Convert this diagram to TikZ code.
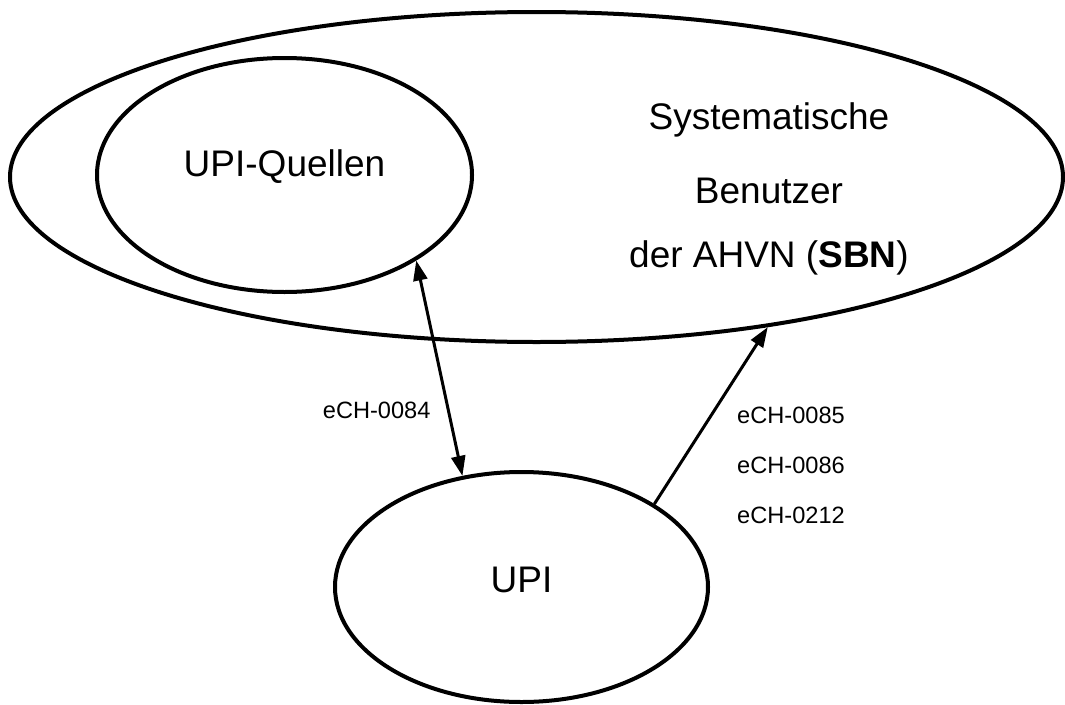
\documentclass[tikz,border=0pt]{standalone}
\usepackage{fontspec}
\setmainfont{Liberation Sans}
\usetikzlibrary{shapes.geometric,arrows.meta}
\tikzset{
  blob/.style={ellipse, draw=black, line width=4pt, inner sep=0pt},
  bigtext/.style={font=\fontsize{37}{44}\selectfont, anchor=base, inner sep=0pt},
  lbltext/.style={font=\fontsize{23.6}{28}\selectfont, anchor=base, inner sep=0pt},
  link/.style={line width=3pt, draw=black},
  tip/.tip={Triangle[length=20pt,width=14pt]}
}
\begin{document}
\begin{tikzpicture}[x=1pt,y=-1pt]
\useasboundingbox (0,0) rectangle (1065,704);
\node[blob, minimum width=1053pt, minimum height=330pt] (outer) at (536.5,177) {};
\node[blob, minimum width=375pt, minimum height=234pt] (quellen) at (284.5,175) {};
\node[blob, minimum width=373pt, minimum height=230pt] (upi) at (521.5,587) {};
\node[bigtext] (tq) at (284.5,176) {UPI-Quellen};
\node[bigtext] (tupi) at (521.5,592) {UPI};
\node[bigtext] (ts1) at (769,129) {Systematische};
\node[bigtext] (ts2) at (769,203) {Benutzer};
\node[bigtext] (ts3) at (769,267) {der AHVN (\textbf{SBN})};
\draw[link, tip-tip] (quellen.-33.5) -- (upi.118.6);
\draw[link, -tip] (upi.32.6) -- (outer.-33);
\node[lbltext] (l84) at (376.7,418) {eCH-0084};
\node[lbltext] (l85) at (791,423) {eCH-0085};
\node[lbltext] (l86) at (791,473) {eCH-0086};
\node[lbltext] (l212) at (791,523) {eCH-0212};
\end{tikzpicture}
\end{document}
